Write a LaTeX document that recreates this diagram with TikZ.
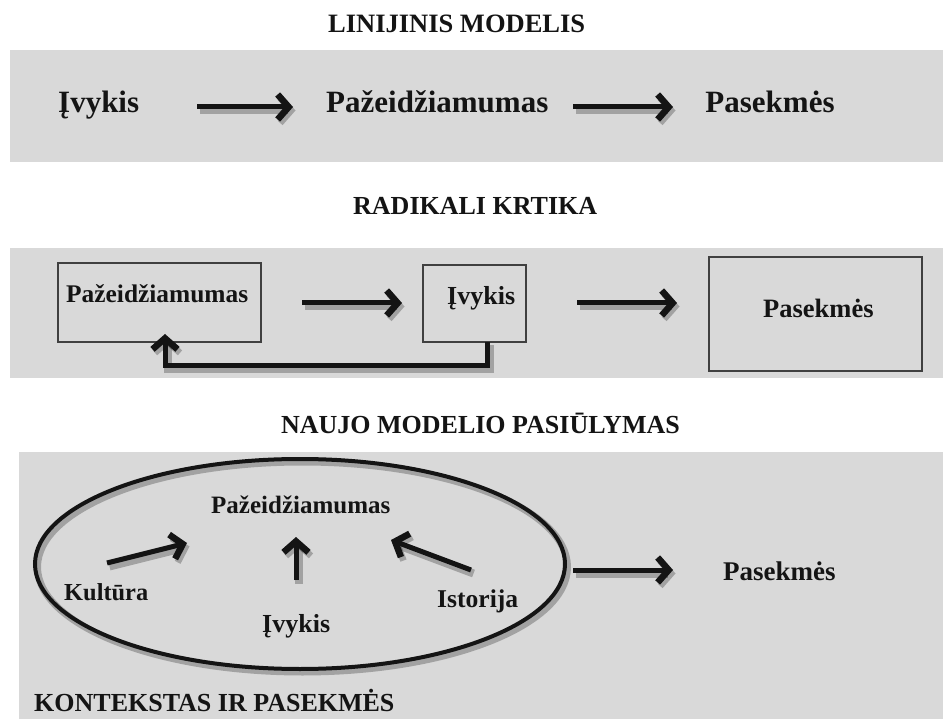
\documentclass[tikz,border=0pt]{standalone}
\usepackage{fontspec}
\setmainfont{Liberation Serif}
\usetikzlibrary{arrows.meta,shapes.geometric}
\definecolor{bandgray}{RGB}{217,217,217}
\definecolor{ink}{RGB}{20,20,20}
\begin{document}
\begin{tikzpicture}[x=1pt,y=-1pt,
  band/.style={fill=bandgray, draw=none},
  txt/.style={inner sep=0pt, anchor=base west, text=ink, font=\bfseries\fontsize{26}{30}\selectfont},
  bigtxt/.style={txt, font=\bfseries\fontsize{31}{36}\selectfont},
  boxed/.style={draw=black!75, line width=1.3pt, inner sep=0pt},
  arr/.style={draw=ink, line width=5pt, line join=miter, -{Straight Barb[length=11pt,width=25pt,line width=6.5pt]}},
  shad/.style={arr, draw=black, opacity=0.25, line width=8pt, transform canvas={shift={(2.5pt,-3.5pt)}}},
  eshad/.style={draw=black, opacity=0.25, line width=7pt, transform canvas={shift={(2.5pt,-3pt)}}}
]
\useasboundingbox (0,0) rectangle (943,719);
\fill[white] (0,0) rectangle (943,719);

% ---------- band 1
\fill[band] (10,50) rectangle (943,162);
\node[txt, font=\bfseries\fontsize{26.5}{30}\selectfont] (title1) at (328,33) {LINIJINIS MODELIS};
\node[bigtxt] (l1) at (58,113) {Įvykis};
\node[bigtxt] (l2) at (326,113) {Pažeidžiamumas};
\node[bigtxt, anchor=base] (l3) at (770,113) {Pasekmės};
\coordinate (a1s) at (197,107); \coordinate (a1e) at (293,107);
\coordinate (a2s) at (573,107); \coordinate (a2e) at (673,107);
\draw[shad] (a1s) -- (a1e); \draw[arr] (a1s) -- (a1e);
\draw[shad] (a2s) -- (a2e); \draw[arr] (a2s) -- (a2e);

% ---------- band 2
\node[txt] (title2) at (353,215) {RADIKALI KRTIKA};
\fill[band] (10,248) rectangle (943,378);
\node[boxed, minimum width=203pt, minimum height=79pt] (b1) at (159.5,302.5) {};
\node[boxed, minimum width=103pt, minimum height=77pt] (b2) at (474.5,303.5) {};
\node[boxed, minimum width=213pt, minimum height=114pt] (b3) at (815.5,314) {};
\node[txt, font=\bfseries\fontsize{25.4}{30}\selectfont] (r1) at (66,303) {Pažeidžiamumas};
\node[txt] (r2) at (447,305) {Įvykis};
\node[txt, font=\bfseries\fontsize{26.5}{30}\selectfont] (r3) at (763,318) {Pasekmės};
\coordinate (b1s) at (302,303); \coordinate (b1e) at (402,303);
\coordinate (b2s) at (577,303); \coordinate (b2e) at (677,303);
\draw[shad] (b1s) -- (b1e); \draw[arr] (b1s) -- (b1e);
\draw[shad] (b2s) -- (b2e); \draw[arr] (b2s) -- (b2e);
\coordinate (fbA) at (487,342); \coordinate (fbC) at (0,366); \coordinate (fbB) at (165,334);
\draw[shad] (fbA) -- (fbA |- fbC) -- (fbB |- fbC) -- (fbB);
\draw[arr] (fbA) -- (fbA |- fbC) -- (fbB |- fbC) -- (fbB);

% ---------- band 3
\node[txt, anchor=base east] (title3) at (680,433) {NAUJO MODELIO PASIŪLYMAS};
\fill[band] (19,452) rectangle (943,719);
\draw[eshad] (300,564) ellipse [x radius=265, y radius=105];
\node[ellipse, draw=ink, line width=4pt, minimum width=530pt, minimum height=210pt, inner sep=0pt] (ell) at (300,564) {};
\node[txt, font=\bfseries\fontsize{25}{30}\selectfont] (n1) at (211,513) {Pažeidžiamumas};
\node[txt, font=\bfseries\fontsize{24.4}{30}\selectfont] (n2) at (64,600) {Kultūra};
\node[txt] (n3) at (262,632) {Įvykis};
\node[txt, font=\bfseries\fontsize{25.6}{30}\selectfont] (n4) at (437,607) {Istorija};
\node[txt, font=\bfseries\fontsize{27}{30}\selectfont] (n5) at (723,580) {Pasekmės};
\node[txt] (n6) at (34,711) {KONTEKSTAS IR PASEKMĖS};
\coordinate (c1s) at (107,563); \coordinate (c1e) at (187,543);
\coordinate (c2s) at (296,580); \coordinate (c2e) at (296,537);
\coordinate (c3s) at (471,570); \coordinate (c3e) at (391,540);
\coordinate (c4s) at (573,570); \coordinate (c4e) at (673,570);
\draw[shad] (c1s) -- (c1e); \draw[arr] (c1s) -- (c1e);
\draw[shad] (c2s) -- (c2e); \draw[arr] (c2s) -- (c2e);
\draw[shad] (c3s) -- (c3e); \draw[arr] (c3s) -- (c3e);
\draw[shad] (c4s) -- (c4e); \draw[arr] (c4s) -- (c4e);
\end{tikzpicture}
\end{document}
